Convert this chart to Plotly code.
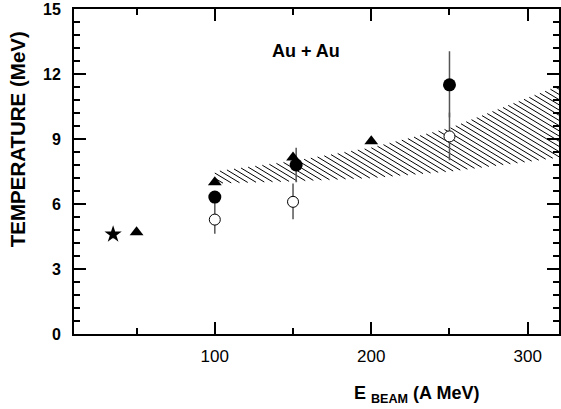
import numpy as np
import plotly.graph_objects as go

# ---- data ----
star_x = [35]
star_y = [4.6]
star_err = [0.2]

tri_x = [50, 100, 150, 200]
tri_y = [4.7, 7.0, 8.15, 8.9]

full_x = [100, 152, 250]
full_y = [6.32, 7.8, 11.5]
full_err_plus = [0.0, 0.8, 1.55]
full_err_minus = [0.0, 0.8, 1.5]

open_x = [100, 150, 250]
open_y = [5.28, 6.1, 9.12]
open_err_plus = [0.9, 0.85, 1.1]
open_err_minus = [0.65, 0.8, 1.1]

band_x = [100, 150, 200, 250, 300, 320]
band_upper = [7.5, 7.98, 8.6, 9.5, 10.9, 11.45]
band_lower = [6.95, 7.05, 7.2, 7.5, 7.95, 8.15]

x_range = [10, 320]
y_range = [0, 15]

# ---- layout geometry ----
W, H = 561, 409
ML, MR, MT, MB = 74, 0, 9, 75
pw = W - ML - MR
ph = H - MT - MB
sx = pw / (x_range[1] - x_range[0])
sy = ph / (y_range[1] - y_range[0])

# hatch lines (style of the band): slope in pixels ~0.6 downward, spacing ~5px vertical
k = 0.6 * sx / sy
dc = 5.2 / sy
xs = np.linspace(band_x[0], band_x[-1], 4001)
up = np.interp(xs, band_x, band_upper)
lo = np.interp(xs, band_x, band_lower)
hx, hy = [], []
c = min(band_lower) + k * band_x[0]
cmax = max(band_upper) + k * band_x[-1]
while c <= cmax:
    yl = c - k * xs
    inside = (yl <= up) & (yl >= lo)
    if inside.any():
        idx = np.where(inside)[0]
        x0, x1 = xs[idx[0]], xs[idx[-1]]
        hx += [x0, x1, None]
        hy += [c - k * x0, c - k * x1, None]
    c += dc

fig = go.Figure()
fig.add_trace(go.Scatter(x=hx, y=hy, mode="lines", line=dict(color="black", width=1),
                         hoverinfo="skip", showlegend=False))

err_col = "#555555"
fig.add_trace(go.Scatter(x=open_x, y=open_y, mode="markers",
                         marker=dict(symbol="circle", size=11, color="white",
                                     line=dict(color="black", width=1)),
                         error_y=dict(type="data", array=open_err_plus, arrayminus=open_err_minus,
                                      color=err_col, thickness=1.5, width=0),
                         showlegend=False))
fig.add_trace(go.Scatter(x=full_x, y=full_y, mode="markers",
                         marker=dict(symbol="circle", size=13, color="black"),
                         error_y=dict(type="data", array=full_err_plus, arrayminus=full_err_minus,
                                      color=err_col, thickness=1.5, width=0),
                         showlegend=False))
fig.add_trace(go.Scatter(x=tri_x, y=tri_y, mode="markers",
                         marker=dict(symbol="triangle-up", size=12, color="black"),
                         showlegend=False))
fig.add_trace(go.Scatter(x=star_x, y=star_y, mode="markers",
                         marker=dict(symbol="star", size=13, color="black"),
                         error_y=dict(type="data", array=star_err, color=err_col, thickness=1, width=0),
                         showlegend=False))

font_fam = "Liberation Sans, Arial, Helvetica, sans-serif"
fig.update_layout(
    width=W, height=H,
    margin=dict(l=ML, r=MR, t=MT, b=MB),
    paper_bgcolor="white", plot_bgcolor="white",
    font=dict(family=font_fam, color="black"),
    xaxis=dict(range=x_range, tickvals=[100, 200, 300], ticks="inside", ticklen=12, tickwidth=1.5,
               tickcolor="black", showline=True, linewidth=2, linecolor="black", mirror="allticks",
               showgrid=False, zeroline=False,
               tickfont=dict(size=17, family=font_fam),
               minor=dict(tickvals=[50, 150, 250], ticks="inside", ticklen=6, tickcolor="black",
                          tickwidth=1.5, showgrid=False),
               ticklabelstandoff=6),
    yaxis=dict(range=y_range, dtick=3, tick0=0, ticks="inside", ticklen=12, tickwidth=1.5,
               tickcolor="black", showline=True, linewidth=2, linecolor="black", mirror="allticks",
               showgrid=False, zeroline=False,
               tickfont=dict(size=16, family=font_fam, weight="bold"),
               minor=dict(dtick=0.6, tick0=0, ticks="inside", ticklen=6, tickcolor="black",
                          tickwidth=1.5, showgrid=False),
               ticklabelstandoff=8),
    annotations=[
        dict(text="<b>TEMPERATURE (MeV)</b>", xref="paper", yref="paper", x=(17 - ML) / pw,
             y=(H - MB - 139) / ph, textangle=-90, showarrow=False,
             font=dict(size=20.5, family=font_fam), xanchor="center", yanchor="middle"),
        dict(text="<b>E <sub>BEAM</sub> (A MeV)</b>", xref="paper", yref="paper",
             x=(418 - ML) / pw, y=(H - MB - 395) / ph, showarrow=False,
             font=dict(size=18, family=font_fam), xanchor="center", yanchor="middle"),
        dict(text="<b>Au + Au</b>", xref="paper", yref="paper",
             x=(307 - ML) / pw, y=(H - MB - 51) / ph, showarrow=False,
             font=dict(size=18, family=font_fam), xanchor="center", yanchor="middle"),
    ],
)

fig.write_html("out.html", config={"displayModeBar": False},
               post_script="document.body.style.margin='0';")
